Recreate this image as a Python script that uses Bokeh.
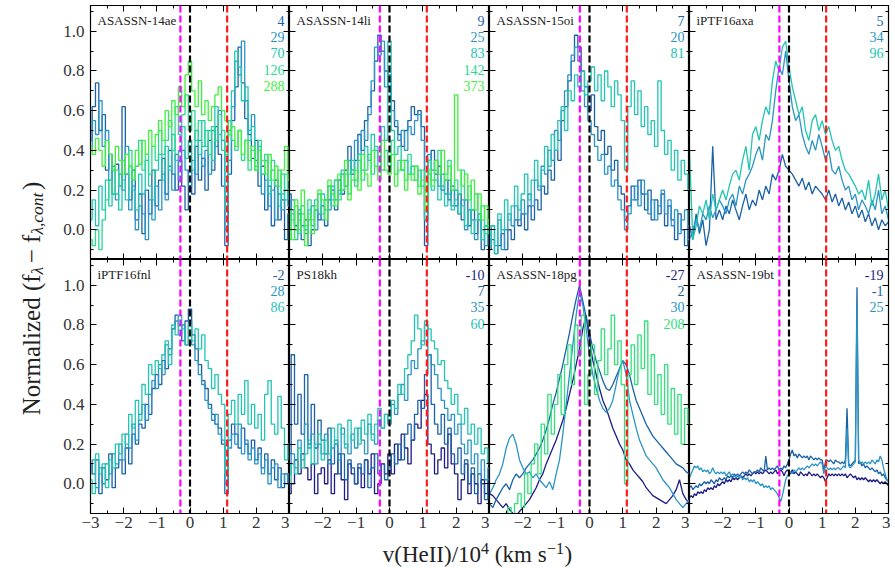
import numpy as np
from bokeh.plotting import figure
from bokeh.models import Span, LinearAxis, FixedTicker, Range1d, CustomJSTickFormatter
from bokeh.layouts import row, column
from bokeh.embed import file_html
from bokeh.resources import INLINE
from bokeh.core.properties import value

# ---------------- data (normalized flux) ----------------
# 61 values span -3..3 (step 0.1); 121 values span -3..3 (step 0.05)
a14ae_4 = [0.45, 0.62, 0.74, 0.50, 0.58, 0.30, 0.38, 0.18, 0.33, 0.22,
           0.62, 0.28, 0.15, 0.30, 0.05, 0.18, -0.02, 0.20, 0.08, 0.30,
           0.12, 0.25, 0.36, 0.18, 0.40, 0.28, 0.20, 0.35, 0.22, 0.10,
           0.30, 0.18, 0.42, 0.25, 0.36, 0.20, 0.45, 0.30, 0.52, 0.38,
           0.22, -0.08, 0.28, 0.55, 0.72, 0.92, 0.74, 0.56, 0.48, 0.36,
           0.45, 0.22, 0.32, 0.10, 0.22, 0.02, 0.25, 0.05, 0.15, -0.05, 0.08]
a14ae_29 = [0.40, 0.55, 0.48, 0.65, 0.42, 0.50, 0.25, 0.32, 0.15, 0.28,
            0.20, 0.42, 0.10, 0.22, 0.00, 0.12, 0.08, -0.05, 0.15, 0.05,
            0.22, 0.10, 0.28, 0.15, 0.32, 0.20, 0.38, 0.25, 0.40, 0.30,
            0.22, 0.35, 0.28, 0.45, 0.32, 0.40, 0.28, 0.50, 0.42, 0.60,
            0.45, 0.00, 0.35, 0.62, 0.85, 0.78, 0.95, 0.65, 0.50, 0.58,
            0.35, 0.40, 0.18, 0.25, 0.12, 0.20, 0.05, 0.18, 0.10, 0.20, 0.12]
a14ae_70 = [0.05, 0.15, 0.02, 0.22, 0.10, 0.25, 0.12, 0.30, 0.18, 0.10,
            0.25, 0.15, 0.32, 0.20, 0.10, 0.28, 0.18, 0.35, 0.22, 0.15,
            0.30, 0.38, 0.25, 0.42, 0.30, 0.48, 0.35, 0.40, 0.52, 0.36,
            0.45, 0.30, 0.50, 0.38, 0.55, 0.42, 0.50, 0.35, 0.62, 0.48,
            0.40, 0.10, 0.50, 0.70, 0.90, 0.82, 0.65, 0.72, 0.45, 0.52,
            0.30, 0.42, 0.28, 0.35, 0.18, 0.30, 0.22, 0.12, 0.28, 0.15, 0.20]
a14ae_126 = [-0.05, -0.08, 0.00, -0.10, 0.05, 0.15, 0.25, 0.18, 0.30, 0.22,
             0.35, 0.28, 0.40, 0.25, 0.32, 0.45, 0.30, 0.38, 0.28, 0.42,
             0.35, 0.50, 0.38, 0.45, 0.55, 0.40, 0.62, 0.48, 0.58, 0.68,
             0.50, 0.60, 0.45, 0.55, 0.42, 0.50, 0.38, 0.52, 0.45, 0.58,
             0.50, 0.38, 0.55, 0.45, 0.40, 0.50, 0.35, 0.45, 0.30, 0.40,
             0.32, 0.45, 0.28, 0.38, 0.25, 0.35, 0.22, 0.30, 0.18, 0.28, 0.20]
a14ae_288 = [0.42, 0.38, 0.46, 0.40, 0.32, 0.45, 0.38, 0.30, 0.42, 0.35,
             0.28, 0.38, 0.32, 0.25, 0.40, 0.33, 0.45, 0.38, 0.50, 0.42,
             0.48, 0.55, 0.45, 0.60, 0.52, 0.65, 0.58, 0.72, 0.62, 0.78,
             0.85, 0.70, 0.62, 0.75, 0.58, 0.65, 0.55, 0.62, 0.68, 0.72,
             0.60, 0.55, 0.48, 0.52, 0.42, 0.50, 0.38, 0.45, 0.35, 0.42,
             0.30, 0.40, 0.35, 0.28, 0.38, 0.25, 0.32, 0.22, 0.30, 0.42, 0.25]

a14li_9 = [0.18, 0.10, 0.02, 0.08, -0.05, 0.05, -0.08, 0.00, 0.10, 0.05,
           0.12, 0.02, 0.15, 0.20, 0.10, 0.25, 0.18, 0.30, 0.42, 0.28,
           0.35, 0.48, 0.40, 0.55, 0.62, 0.70, 0.85, 0.98, 0.90, 0.80,
           0.72, 0.65, 0.52, 0.48, 0.42, 0.50, 0.55, 0.62, 0.58, 0.60,
           0.52, -0.08, 0.35, 0.40, 0.28, 0.32, 0.20, 0.25, 0.15, 0.22,
           0.12, 0.18, 0.05, 0.15, 0.02, 0.10, -0.02, 0.05, -0.10, 0.02, 0.00]
a14li_25 = [0.05, 0.15, 0.00, 0.10, 0.02, -0.02, 0.05, 0.12, 0.00, 0.08,
            0.05, 0.15, 0.10, 0.22, 0.15, 0.20, 0.28, 0.22, 0.35, 0.30,
            0.45, 0.38, 0.50, 0.45, 0.58, 0.75, 0.92, 0.88, 0.95, 0.72,
            0.78, 0.60, 0.55, 0.45, 0.50, 0.40, 0.52, 0.48, 0.55, 0.58,
            0.45, 0.05, 0.38, 0.30, 0.35, 0.22, 0.28, 0.18, 0.25, 0.12,
            0.20, 0.08, 0.15, 0.00, 0.10, 0.05, -0.05, 0.08, 0.00, -0.08, 0.05]
a14li_83 = [0.00, 0.08, -0.05, 0.05, 0.12, 0.00, 0.10, 0.02, 0.15, 0.08,
            0.18, 0.10, 0.22, 0.15, 0.25, 0.18, 0.30, 0.22, 0.28, 0.35,
            0.25, 0.38, 0.30, 0.42, 0.35, 0.48, 0.40, 0.30, 0.52, 0.45,
            0.95, 0.50, 0.38, 0.42, 0.30, 0.35, 0.28, 0.32, 0.25, 0.30,
            0.22, 0.05, 0.28, 0.20, 0.25, 0.15, 0.22, 0.12, 0.18, 0.10,
            0.15, 0.08, 0.12, 0.02, 0.10, -0.02, 0.05, 0.08, -0.05, 0.02, -0.02]
a14li_142 = [-0.05, 0.05, 0.12, -0.02, 0.08, 0.02, 0.15, 0.05, 0.10, 0.18,
             0.08, 0.15, 0.22, 0.12, 0.25, 0.15, 0.20, 0.28, 0.18, 0.30,
             0.22, 0.35, 0.25, 0.30, 0.38, 0.28, 0.42, 0.35, 0.30, 0.40,
             0.32, 0.45, 0.28, 0.35, 0.30, 0.25, 0.38, 0.28, 0.32, 0.22,
             0.30, 0.20, 0.35, 0.25, 0.30, 0.40, 0.22, 0.28, 0.35, 0.20,
             0.25, 0.18, 0.30, 0.15, 0.22, 0.10, 0.18, 0.05, 0.12, -0.02, 0.05]
a14li_373 = [0.10, -0.05, 0.15, 0.00, 0.20, -0.08, 0.08, -0.02, 0.12, 0.20,
             0.15, 0.05, 0.25, 0.18, 0.12, 0.28, 0.20, 0.35, 0.15, 0.25,
             0.30, 0.20, 0.38, 0.28, 0.22, 0.40, 0.32, 0.25, 0.45, 0.30,
             0.28, 0.38, 0.22, 0.30, 0.35, 0.20, 0.28, 0.25, 0.32, 0.18,
             0.25, 0.10, 0.30, 0.22, 0.35, 0.28, 0.40, 0.25, 0.32, 0.20,
             0.68, 0.30, 0.22, 0.28, 0.15, 0.25, 0.10, 0.18, 0.05, 0.12, 0.02]

a15oi_7 = [-0.10, -0.05, -0.12, -0.08, -0.02, -0.10, 0.00, -0.05, 0.05, 0.02,
           0.08, 0.00, 0.12, 0.05, 0.15, 0.10, 0.22, 0.18, 0.30, 0.25,
           0.40, 0.35, 0.55, 0.62, 0.75, 0.85, 0.98, 0.92, 0.80, 0.72,
           0.60, 0.68, 0.52, 0.45, 0.50, 0.38, 0.42, 0.30, 0.35, 0.22,
           0.18, 0.05, 0.12, 0.22, 0.15, 0.25, 0.18, 0.10, 0.20, 0.05,
           0.15, 0.08, 0.18, 0.02, 0.12, 0.05, -0.05, 0.08, 0.00, -0.08, 0.02]
a15oi_20 = [-0.05, 0.02, -0.08, 0.05, -0.10, 0.00, 0.08, 0.02, 0.12, 0.05,
            0.15, 0.08, 0.18, 0.12, 0.25, 0.20, 0.32, 0.28, 0.40, 0.35,
            0.50, 0.45, 0.60, 0.70, 0.78, 0.88, 0.92, 0.85, 0.70, 0.62,
            0.55, 0.48, 0.42, 0.35, 0.38, 0.28, 0.32, 0.22, 0.25, 0.15,
            0.10, 0.00, 0.08, 0.15, 0.22, 0.12, 0.25, 0.18, 0.08, 0.15,
            0.05, 0.12, 0.20, 0.08, 0.15, 0.02, 0.10, -0.02, 0.05, 0.10, -0.05]
a15oi_81 = [-0.08, 0.02, -0.12, 0.08, 0.00, 0.15, 0.05, 0.12, 0.22, 0.10,
            0.18, 0.28, 0.15, 0.25, 0.35, 0.22, 0.30, 0.42, 0.32, 0.48,
            0.40, 0.55, 0.62, 0.50, 0.70, 0.65, 0.78, 0.72, 0.80, 0.68,
            0.75, 0.82, 0.70, 0.78, 0.65, 0.80, 0.72, 0.62, 0.75, 0.68,
            0.55, 0.30, 0.62, 0.75, 0.58, 0.70, 0.52, 0.62, 0.48, 0.55,
            0.42, 0.75, 0.50, 0.38, 0.45, 0.30, 0.40, 0.25, 0.35, 0.28, 0.20]

p16axa_5 = [0.02, -0.05, 0.08, -0.02, 0.05, -0.08, 0.00, 0.42, 0.05, 0.10,
            0.05, 0.12, 0.08, 0.15, 0.10, 0.05, 0.12, 0.18, 0.10, 0.15,
            0.12, 0.20, 0.15, 0.22, 0.18, 0.28, 0.25, 0.30, 0.38, 0.32,
            0.30, 0.28, 0.25, 0.22, 0.26, 0.20, 0.24, 0.18, 0.22, 0.20,
            0.18, 0.15, 0.20, 0.14, 0.18, 0.12, 0.16, 0.10, 0.14, 0.08,
            0.12, 0.06, 0.10, 0.04, 0.08, 0.02, 0.06, 0.00, 0.05, 0.02, 0.04]
p16axa_34 = [-0.05, 0.00, 0.05, 0.00, 0.08, 0.05, 0.12, 0.06, 0.10, 0.15,
             0.12, 0.08, 0.15, 0.18, 0.12, 0.22, 0.18, 0.25, 0.28, 0.32,
             0.38, 0.42, 0.35, 0.48, 0.45, 0.55, 0.70, 0.82, 0.78, 0.90,
             0.75, 0.62, 0.55, 0.58, 0.48, 0.42, 0.38, 0.45, 0.40, 0.48,
             0.42, 0.35, 0.40, 0.30, 0.28, 0.32, 0.25, 0.20, 0.22, 0.15,
             0.18, 0.10, 0.15, 0.12, 0.08, 0.15, 0.10, 0.20, 0.08, 0.12, 0.05]
p16axa_96 = [0.40, -0.05, 0.02, 0.12, 0.08, 0.15, 0.05, 0.18, 0.10, 0.15,
             0.20, 0.15, 0.22, 0.28, 0.30, 0.25, 0.35, 0.42, 0.30, 0.48,
             0.52, 0.45, 0.55, 0.62, 0.58, 0.75, 0.85, 0.80, 0.92, 0.95,
             0.82, 0.72, 0.65, 0.58, 0.62, 0.50, 0.45, 0.55, 0.58, 0.50,
             0.55, 0.48, 0.52, 0.45, 0.40, 0.42, 0.35, 0.30, 0.28, 0.25,
             0.22, 0.18, 0.20, 0.15, 0.25, 0.12, 0.18, 0.28, 0.15, 0.20, 0.10]

p16fnl_m2 = [0.10, 0.05, 0.12, -0.05, 0.08, 0.02, 0.15, -0.02, 0.08, 0.12,
             0.05, 0.18, 0.10, 0.25, 0.20, 0.30, 0.28, 0.40, 0.35, 0.48,
             0.55, 0.50, 0.62, 0.58, 0.68, 0.78, 0.85, 0.80, 0.72, 0.82,
             0.88, 0.75, 0.68, 0.60, 0.52, 0.48, 0.40, 0.35, 0.30, 0.28,
             0.20, -0.05, 0.22, 0.30, 0.25, 0.18, 0.28, 0.20, 0.15, 0.22,
             0.12, 0.18, 0.08, 0.15, 0.05, 0.12, 0.02, 0.08, -0.02, 0.05, 0.00]
p16fnl_28 = [0.05, 0.12, -0.02, 0.08, 0.00, 0.10, 0.05, 0.15, 0.10, 0.20,
             0.12, 0.25, 0.18, 0.30, 0.22, 0.35, 0.40, 0.32, 0.45, 0.52,
             0.48, 0.60, 0.55, 0.70, 0.65, 0.78, 0.82, 0.75, 0.80, 0.70,
             0.82, 0.70, 0.62, 0.55, 0.50, 0.42, 0.38, 0.32, 0.35, 0.25,
             0.22, 0.00, 0.18, 0.25, 0.20, 0.30, 0.15, 0.22, 0.12, 0.18,
             0.10, 0.15, 0.05, 0.12, 0.00, 0.08, 0.10, -0.02, 0.05, 0.00, 0.05]
p16fnl_86 = [0.02, -0.05, 0.15, 0.05, 0.10, -0.02, 0.12, 0.08, 0.20, 0.15,
             0.25, 0.20, 0.35, 0.28, 0.42, 0.32, 0.50, 0.45, 0.60, 0.55,
             0.62, 0.58, 0.65, 0.72, 0.60, 0.80, 0.75, 0.85, 0.78, 0.70,
             0.80, 0.72, 0.78, 0.68, 0.75, 0.62, 0.58, 0.48, 0.55, 0.45,
             0.40, 0.05, 0.35, 0.42, 0.30, 0.45, 0.35, 0.52, 0.30, 0.40,
             0.28, 0.35, 0.22, 0.45, 0.52, 0.30, 0.25, 0.44, 0.28, 0.12, 0.20]

ps18kh_m10 = [-0.05, 0.00, 0.12, 0.05, 0.15, 0.08, 0.02, 0.10, -0.05, 0.05,
              0.08, 0.00, 0.12, -0.05, 0.05, 0.15, 0.02, -0.08, 0.10, 0.05,
              0.00, 0.08, -0.02, 0.12, 0.05, 0.15, -0.05, 0.00, 0.10, 0.05,
              0.15, 0.05, 0.20, 0.12, 0.25, 0.18, 0.10, 0.22, 0.30, 0.28,
              0.42, 0.45, 0.20, 0.15, 0.05, 0.12, 0.18, 0.08, 0.25, 0.10,
              0.05, -0.08, 0.02, 0.10, -0.05, 0.05, 0.00, -0.10, 0.02, -0.05, 0.00]
ps18kh_7 = [0.15, 0.65, 0.30, 0.45, 0.25, 0.55, 0.20, 0.40, 0.18, 0.32,
            0.22, 0.15, 0.28, 0.10, 0.20, 0.05, 0.15, 0.02, 0.12, 0.08,
            0.00, 0.10, 0.05, 0.12, -0.02, 0.08, 0.15, 0.05, 0.10, 0.02,
            0.08, 0.15, 0.10, 0.20, 0.12, 0.25, 0.30, 0.22, 0.35, 0.42,
            0.38, 0.55, 0.65, 0.40, 0.30, 0.25, 0.35, 0.20, 0.28, 0.15,
            0.10, 0.18, 0.05, 0.12, 0.00, 0.08, -0.05, 0.05, 0.00, -0.08, 0.02]
ps18kh_35 = [0.05, 0.15, 0.08, 0.22, 0.12, 0.30, 0.18, 0.25, 0.10, 0.20,
             0.15, 0.25, 0.10, 0.18, 0.22, 0.12, 0.28, 0.20, 0.15, 0.25,
             0.18, 0.28, 0.22, 0.15, 0.30, 0.25, 0.20, 0.32, 0.28, 0.35,
             0.30, 0.40, 0.35, 0.45, 0.50, 0.42, 0.55, 0.62, 0.58, 0.68,
             0.72, 0.80, 0.65, 0.60, 0.55, 0.48, 0.42, 0.38, 0.32, 0.35,
             0.25, 0.30, 0.20, 0.15, 0.22, 0.10, 0.15, 0.05, 0.12, 0.02, 0.08]
ps18kh_60 = [0.00, 0.10, 0.05, 0.18, 0.08, 0.15, 0.22, 0.10, 0.20, 0.25,
             0.12, 0.22, 0.15, 0.28, 0.20, 0.30, 0.25, 0.18, 0.32, 0.22,
             0.28, 0.20, 0.32, 0.25, 0.35, 0.22, 0.30, 0.38, 0.28, 0.35,
             0.32, 0.42, 0.38, 0.50, 0.45, 0.58, 0.65, 0.72, 0.85, 0.78,
             0.70, 0.82, 0.78, 0.72, 0.68, 0.60, 0.62, 0.52, 0.48, 0.40,
             0.45, 0.35, 0.30, 0.38, 0.25, 0.30, 0.20, 0.28, 0.15, 0.18, 0.10]

a18pg_m27 = [-0.05, -0.06, -0.08, -0.10, -0.12, -0.10, -0.13, -0.15, -0.16, -0.14,
             -0.12, -0.10, -0.08, -0.05, -0.02, 0.02, 0.05, 0.10, 0.14, 0.18,
             0.22, 0.27, 0.32, 0.38, 0.45, 0.52, 0.60, 0.68, 0.78, 0.85,
             0.72, 0.62, 0.55, 0.48, 0.42, 0.38, 0.33, 0.28, 0.24, 0.20,
             0.17, 0.12, 0.10, 0.07, 0.05, 0.03, 0.01, -0.02, -0.04, -0.06,
             -0.07, -0.08, -0.09, -0.10, -0.08, -0.06, -0.03, 0.02, -0.05, -0.08, -0.10]
a18pg_2 = [-0.10, -0.12, -0.08, -0.05, -0.02, 0.00, -0.03, 0.02, 0.05, 0.03,
           0.05, 0.08, 0.10, 0.12, 0.15, 0.18, 0.22, 0.27, 0.33, 0.40,
           0.46, 0.53, 0.60, 0.68, 0.76, 0.85, 0.93, 1.00, 0.92, 0.84,
           0.76, 0.68, 0.62, 0.57, 0.52, 0.48, 0.47, 0.50, 0.54, 0.58,
           0.62, 0.60, 0.55, 0.48, 0.42, 0.38, 0.34, 0.30, 0.27, 0.24,
           0.22, 0.20, 0.18, 0.16, 0.14, 0.12, 0.10, 0.09, 0.08, 0.06, 0.05]
a18pg_30 = [-0.05, -0.02, 0.02, 0.05, 0.10, 0.18, 0.23, 0.25, 0.20, 0.12,
            0.08, 0.05, 0.06, 0.03, 0.05, 0.02, 0.00, -0.02, 0.01, -0.03,
            0.05, 0.12, 0.25, 0.40, 0.55, 0.70, 0.85, 0.97, 0.90, 0.78,
            0.65, 0.55, 0.48, 0.42, 0.38, 0.36, 0.38, 0.42, 0.50, 0.58,
            0.62, 0.55, 0.42, 0.35, 0.28, 0.22, 0.18, 0.14, 0.12, 0.10,
            0.08, 0.05, 0.02, 0.00, -0.02, -0.05, -0.08, -0.10, -0.12, -0.10, -0.08]
a18pg_208 = [-0.20, -0.20, -0.20, -0.20, -0.18, -0.15, -0.12, -0.20, -0.10, -0.05,
             -0.12, 0.05, -0.05, 0.10, 0.20, 0.05, 0.30, 0.15, 0.45, 0.25,
             0.40, 0.55, 0.35, 0.60, 0.70, 0.50, 0.80, 0.65, 0.85, 0.40,
             0.55, 0.70, 0.45, 0.62, 0.78, 0.55, 0.68, 0.85, 0.60, 0.72,
             0.50, 0.00, 0.55, 0.70, 0.50, 0.75, 0.58, 0.82, 0.45, 0.65,
             0.40, 0.55, 0.35, 0.60, 0.30, 0.48, 0.25, 0.45, 0.20, 0.38, 0.30]

a19bt_m19 = [-0.07, -0.06, -0.07, -0.05, -0.06, -0.04, -0.05, -0.04, -0.05, -0.03,
             -0.04, -0.02, -0.03, -0.02, -0.03, -0.01, -0.02, 0.00, -0.01, 0.00,
             0.01, 0.00, 0.02, 0.01, 0.02, 0.01, 0.03, 0.02, 0.03, 0.02,
             0.03, 0.04, 0.03, 0.04, 0.05, 0.04, 0.05, 0.04, 0.05, 0.06,
             0.05, 0.06, 0.05, 0.06, 0.05, 0.06, 0.07, 0.06, 0.05, 0.06,
             0.05, 0.06, 0.07, 0.05, 0.06, 0.07, 0.06, 0.04, 0.06, 0.07,
             0.06, 0.05, 0.07, 0.05, 0.06, 0.05, 0.04, 0.06, 0.05, 0.04,
             0.05, 0.04, 0.06, 0.05, 0.04, 0.05, 0.04, 0.05, 0.04, 0.03,
             0.04, 0.03, 0.01, 0.03, 0.05, 0.04, 0.05, 0.04, 0.05, 0.04,
             0.05, 0.04, 0.05, 0.04, 0.05, 0.03, 0.04, 0.05, 0.04, 0.03,
             0.04, 0.02, 0.03, 0.02, 0.03, 0.02, 0.03, 0.02, 0.01, 0.02,
             0.01, 0.02, 0.01, 0.02, 0.01, 0.00, 0.01, 0.00, 0.01, 0.00, -0.01]
a19bt_m1 = [-0.02, -0.01, -0.03, -0.02, -0.01, -0.02, 0.00, -0.01, 0.00, 0.01,
            0.00, 0.01, 0.00, 0.02, 0.01, 0.00, 0.02, 0.01, 0.03, 0.02,
            0.02, 0.03, 0.02, 0.04, 0.03, 0.04, 0.03, 0.05, 0.04, 0.05,
            0.04, 0.05, 0.06, 0.05, 0.06, 0.05, 0.07, 0.06, 0.05, 0.06,
            0.06, 0.07, 0.06, 0.08, 0.07, 0.06, 0.14, 0.07, 0.08, 0.07,
            0.08, 0.07, 0.08, 0.09, 0.07, 0.08, 0.07, 0.09, 0.08, 0.10,
            0.12, 0.15, 0.17, 0.14, 0.15, 0.13, 0.15, 0.14, 0.13, 0.14,
            0.13, 0.14, 0.12, 0.14, 0.13, 0.12, 0.13, 0.12, 0.13, 0.12,
            0.12, 0.07, 0.11, 0.12, 0.11, 0.12, 0.11, 0.10, 0.12, 0.11,
            0.11, 0.10, 0.11, 0.10, 0.12, 0.38, 0.10, 0.09, 0.10, 0.11,
            0.12, 0.99, 0.10, 0.11, 0.09, 0.10, 0.08, 0.09, 0.08, 0.07,
            0.08, 0.07, 0.06, 0.07, 0.05, 0.06, 0.04, 0.05, 0.03, 0.02, 0.01]
a19bt_25 = [0.03, 0.05, 0.07, 0.09, 0.08, 0.09, 0.07, 0.08, 0.06, 0.07,
            0.06, 0.07, 0.05, 0.06, 0.08, 0.06, 0.05, 0.06, 0.05, 0.06,
            0.05, 0.06, 0.04, 0.05, 0.06, 0.04, 0.05, 0.04, 0.03, 0.04,
            0.03, 0.04, 0.02, 0.03, 0.02, 0.03, 0.01, 0.02, 0.01, 0.02,
            0.00, 0.01, 0.00, -0.01, 0.00, -0.02, -0.01, -0.02, -0.01, -0.03,
            -0.02, -0.03, -0.04, -0.05, -0.07, -0.09, -0.06, -0.02, 0.02, 0.04,
            0.05, 0.06, 0.05, 0.07, 0.06, 0.07, 0.08, 0.07, 0.08, 0.07,
            0.08, 0.09, 0.08, 0.09, 0.10, 0.09, 0.10, 0.09, 0.10, 0.11,
            0.10, 0.05, 0.09, 0.08, 0.07, 0.08, 0.07, 0.08, 0.07, 0.08,
            0.08, 0.07, 0.08, 0.09, 0.08, 0.28, 0.09, 0.08, 0.09, 0.10,
            0.11, 0.90, 0.12, 0.10, 0.11, 0.10, 0.11, 0.10, 0.11, 0.10,
            0.12, 0.11, 0.10, 0.12, 0.11, 0.14, 0.12, 0.08, 0.05, 0.02, 0.01]

# marker velocities (10^4 km/s): NIII, HeII, Hbeta
V_NIII, V_HEII, V_HB = -0.29, 0.0, 1.12

NAVY = "#1c1c86"
C0 = "#1a62a8"
C1 = "#2a94c6"
C2 = "#22c4b2"
C3 = "#2cd890"
C4 = "#30e07c"
C5 = "#3ef040"

PANELS = [
    ("ASASSN-14ae", [("4", a14ae_4, C0, "step"), ("29", a14ae_29, C1, "step"),
                     ("70", a14ae_70, C2, "step"), ("126", a14ae_126, C3, "step"),
                     ("288", a14ae_288, C5, "step")]),
    ("ASASSN-14li", [("9", a14li_9, C0, "step"), ("25", a14li_25, C1, "step"),
                     ("83", a14li_83, C2, "step"), ("142", a14li_142, C3, "step"),
                     ("373", a14li_373, C5, "step")]),
    ("ASASSN-15oi", [("7", a15oi_7, C0, "step"), ("20", a15oi_20, C1, "step"),
                     ("81", a15oi_81, C2, "step")]),
    ("iPTF16axa", [("5", p16axa_5, C0, "line"), ("34", p16axa_34, C1, "line"),
                   ("96", p16axa_96, C2, "line")]),
    ("iPTF16fnl", [("-2", p16fnl_m2, C0, "step"), ("28", p16fnl_28, C1, "step"),
                   ("86", p16fnl_86, C2, "step")]),
    ("PS18kh", [("-10", ps18kh_m10, NAVY, "step"), ("7", ps18kh_7, C0, "step"),
                ("35", ps18kh_35, C1, "step"), ("60", ps18kh_60, C2, "step")]),
    ("ASASSN-18pg", [("-27", a18pg_m27, NAVY, "line"), ("2", a18pg_2, C0, "line"),
                     ("30", a18pg_30, C1, "line"), ("208", a18pg_208, C4, "step")]),
    ("ASASSN-19bt", [("-19", a19bt_m19, NAVY, "line"), ("-1", a19bt_m1, C0, "line"),
                     ("25", a19bt_25, C1, "line")]),
]

FONT = "Liberation Serif"
TXT = "#222222"

# layout (page has no margin: Bokeh's template sets body margin to 0)
TOP_PAD = 5
YLAB_W = 48
LEFT_AX = 42
FRAME_W = [199, 200, 200, 199]
FRAME_H = 254
Y_LO, Y_HI = -0.15, 1.13
BOT_AX = 24
XLAB_H = 30
PPU_Y = FRAME_H / (Y_HI - Y_LO)
XLAB_BASELINE = 554   # page y of the x-label baseline


def style_axis(ax, show):
    ax.major_tick_in = 6
    ax.major_tick_out = 0
    ax.minor_tick_in = 3
    ax.minor_tick_out = 0
    ax.axis_line_color = "black"
    ax.axis_line_width = 1.0
    ax.major_tick_line_color = "black"
    ax.minor_tick_line_color = "black"
    ax.major_tick_line_width = 1.0
    ax.minor_tick_line_width = 1.0
    if show:
        ax.major_label_text_font = FONT
        ax.major_label_text_font_size = "17px"
        ax.major_label_text_color = "#333333"
        ax.major_label_standoff = 4
    else:
        ax.major_label_text_font_size = "0px"
        ax.major_label_standoff = 0
        ax.major_label_text_alpha = 0


def make_panel(i, name, series):
    r, c = divmod(i, 4)
    fw = FRAME_W[c]
    p = figure(frame_width=fw, frame_height=FRAME_H,
               x_range=Range1d(-3, 3), y_range=Range1d(Y_LO, Y_HI),
               x_axis_type=None, y_axis_type=None,
               output_backend="svg", toolbar_location=None,
               min_border_left=LEFT_AX if c == 0 else 0,
               min_border_right=2 if c == 3 else 0,
               min_border_top=TOP_PAD if r == 0 else 0,
               min_border_bottom=BOT_AX if r == 1 else 0)
    p.outline_line_color = "black"
    p.outline_line_width = 1.2
    p.background_fill_color = "white"
    p.border_fill_color = "white"

    xt = FixedTicker(ticks=[-3, -2, -1, 0, 1, 2, 3] if c == 0 else [-2, -1, 0, 1, 2, 3],
                     minor_ticks=[-2.5, -1.5, -0.5, 0.5, 1.5, 2.5])
    yt = FixedTicker(ticks=[0.0, 0.2, 0.4, 0.6, 0.8, 1.0],
                     minor_ticks=[-0.1, 0.1, 0.3, 0.5, 0.7, 0.9, 1.1])
    xfmt = CustomJSTickFormatter(code="return (tick < 0 ? '\\u2212' : '') + Math.abs(tick).toFixed(0);")
    yfmt = CustomJSTickFormatter(code="return Math.abs(tick).toFixed(1);")
    for loc in ("below", "above", "left", "right"):
        horiz = loc in ("below", "above")
        ax = LinearAxis(ticker=xt if horiz else yt, formatter=xfmt if horiz else yfmt)
        show = (loc == "below" and r == 1) or (loc == "left" and c == 0)
        style_axis(ax, show)
        if loc == "below" and r == 1:
            ax.major_label_standoff = 3
        if loc == "left" and c == 0:
            ax.major_label_standoff = 6
        p.add_layout(ax, loc)

    for lab, ys, col, mode in series:
        xs = np.linspace(-3, 3, len(ys))
        if mode == "step":
            p.step(xs, ys, mode="center", line_color=col, line_width=1.3)
        else:
            p.line(xs, ys, line_color=col, line_width=1.3)

    for loc, colr in ((V_NIII, "#ff00ff"), (V_HEII, "black"), (V_HB, "#ff1a1a")):
        p.add_layout(Span(location=loc, dimension="height", line_color=colr,
                          line_width=2.2, line_dash="7 3"))

    ppx = fw / 6.0
    p.text(x=[-3 + 7 / ppx], y=[Y_HI - 15 / PPU_Y], text=[name],
           text_font=value(FONT), text_font_size=value("13px"), text_color=TXT,
           text_align="left", text_baseline="middle")
    labs = [s[0] for s in series]
    cols = [s[2] for s in series]
    ys_lab = [Y_HI - (15 + 16.4 * k) / PPU_Y for k in range(len(labs))]
    p.text(x=[3 - 5 / ppx] * len(labs), y=ys_lab, text=labs, text_color=cols,
           text_font=value(FONT), text_font_size=value("14px"),
           text_align="right", text_baseline="middle")
    return p


panels = [make_panel(i, nm, ser) for i, (nm, ser) in enumerate(PANELS)]

# ---- text metrics (Times-compatible) used to lay out multi-piece labels ----
W = {' ': 250, '(': 333, ')': 333, '/': 278, ',': 250, '\u2212': 564, '0': 500, '1': 500,
     '4': 500, 'a': 444, 'c': 444, 'd': 500, 'e': 444, 'f': 333, 'i': 278, 'k': 500,
     'l': 278, 'm': 778, 'n': 500, 'o': 500, 'r': 333, 's': 389, 't': 278, 'v': 500,
     'z': 444, 'H': 722, 'I': 333, 'N': 722, '\u03bb': 550}


def tw(s, size):
    return sum(W.get(ch, 500) for ch in s) * size / 1000.0


TOTAL_H = TOP_PAD + 2 * FRAME_H + BOT_AX + XLAB_H
GRID_W = LEFT_AX + sum(FRAME_W) + 2

# y label figure (rotated, pieces with subscripts); pieces: text, size, shift, style, gap-after
ylab = figure(frame_width=YLAB_W, frame_height=TOTAL_H, x_range=Range1d(0, YLAB_W),
              y_range=Range1d(0, TOTAL_H), x_axis_type=None, y_axis_type=None,
              min_border=0, outline_line_color=None, toolbar_location=None,
              output_backend="svg")
ylab.background_fill_color = "white"
ylab.border_fill_color = "white"
FM, FS = 25, 17.5
pieces = [("Normalized", FM, 0, "normal", tw(" ", FM)),
          ("(f", FM, 0, "normal", 0.0),
          ("\u03bb", FS, 5, "italic", 1.5),
          ("\u2212", FM, 0, "normal", tw(" ", FM)),
          ("f", FM, 0, "normal", 0.0),
          ("\u03bb,cont", FS, 5, "italic", 0.5),
          (")", FM, 0, "normal", 0.0)]
total = sum(tw(s, f) + g for s, f, _, _, g in pieces)
ycur = TOTAL_H - 298 - total / 2.0
for s, f, shift, st, gap in pieces:
    ylab.text(x=[31 + shift], y=[ycur], text=[s], angle=np.pi / 2,
              text_font=value(FONT), text_font_size=value(f"{f}px"),
              text_font_style=st, text_color=TXT,
              text_align="left", text_baseline="alphabetic")
    ycur += tw(s, f) + gap

# x label figure
xlab = figure(frame_width=GRID_W, frame_height=XLAB_H, x_range=Range1d(0, GRID_W),
              y_range=Range1d(0, XLAB_H), x_axis_type=None, y_axis_type=None,
              min_border=0, outline_line_color=None, toolbar_location=None,
              output_backend="svg")
xlab.background_fill_color = "white"
xlab.border_fill_color = "white"
XM, XS = 23, 16
xpieces = [("v(HeII)/10", XM, 0, 0.0), ("4", XS, 6, tw(" ", XM)),
           ("(km s", XM, 0, 0.5), ("\u22121", XS, 6, 0.5), (")", XM, 0, 0.0)]
xtot = sum(tw(s, f) + g for s, f, _, g in xpieces)
xcur = (477 - YLAB_W) - xtot / 2.0
base_y = XLAB_H - (XLAB_BASELINE - (TOTAL_H - XLAB_H))
for s, f, up, gap in xpieces:
    xlab.text(x=[xcur], y=[base_y + up], text=[s],
              text_font=value(FONT), text_font_size=value(f"{f}px"),
              text_color=TXT, text_align="left", text_baseline="alphabetic")
    xcur += tw(s, f) + gap

grid = column(row(*panels[:4]), row(*panels[4:]), xlab)
layout = row(ylab, grid)

with open("out.html", "w") as fh:
    fh.write(file_html(layout, INLINE, title="HeII profiles"))
